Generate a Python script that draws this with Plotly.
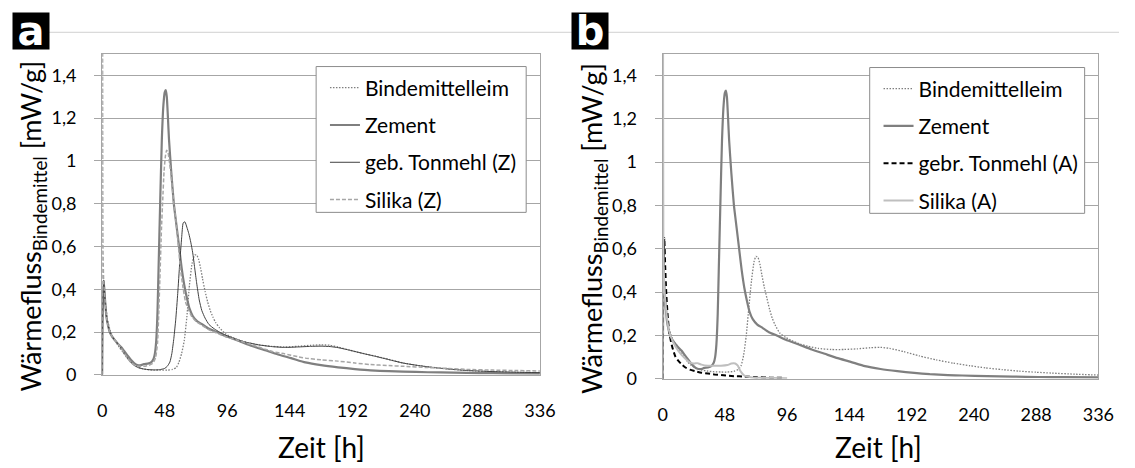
import plotly.graph_objects as go

W, H = 1135, 468

# ---------------- data: panel a ----------------
bind_a_t = [0, 0.4, 1.2, 2.5, 4, 6, 8, 10, 13, 16, 19, 22, 26, 30, 35, 40, 45, 50, 54, 57, 59, 61, 63, 65, 67, 69, 71,
            72.5, 74, 75.5, 77, 79, 81, 83, 85, 87, 90, 95, 100, 106, 112, 120, 130, 140, 150, 160, 168, 175, 181, 190,
            200, 210, 220, 231, 243, 256, 268, 281, 300, 318, 336]
bind_a_v = [0, 0.3, 0.44, 0.34, 0.26, 0.21, 0.18, 0.16, 0.13, 0.105, 0.08, 0.06, 0.042, 0.03, 0.024, 0.022, 0.022, 0.022,
            0.025, 0.035, 0.06, 0.1, 0.16, 0.27, 0.42, 0.52, 0.56, 0.56, 0.54, 0.5, 0.45, 0.39, 0.34, 0.3, 0.27, 0.245,
            0.22, 0.19, 0.175, 0.16, 0.15, 0.14, 0.133, 0.13, 0.133, 0.138, 0.14, 0.138, 0.13, 0.115, 0.1, 0.087, 0.072,
            0.055, 0.043, 0.033, 0.026, 0.02, 0.015, 0.012, 0.01]

zem_t = [0, 0.4, 1.2, 2.2, 3.3, 4.5, 5.8, 8, 10, 12, 14.5, 17, 19.5, 22, 24.5, 27, 30, 32, 35, 37.5, 39.5, 40.5, 41.5,
         42.5, 43.3, 44.5, 45.8, 47, 48, 48.8, 49.6, 50.5, 51.3, 53, 55, 57, 59, 61, 63, 65, 67, 69.5, 73, 77, 82, 88,
         95, 105, 115, 125, 135, 145, 156, 168, 181, 194, 206, 220, 231, 250, 270, 290, 310, 336]
zem_v = [0, 0.3, 0.44, 0.35, 0.27, 0.23, 0.2, 0.175, 0.16, 0.145, 0.13, 0.11, 0.09, 0.07, 0.055, 0.046, 0.045, 0.05,
         0.052, 0.058, 0.075, 0.1, 0.16, 0.3, 0.5, 0.8, 1.1, 1.26, 1.32, 1.33, 1.3, 1.2, 1.1, 0.95, 0.8, 0.7, 0.6, 0.5,
         0.42, 0.36, 0.31, 0.275, 0.25, 0.235, 0.215, 0.2, 0.18, 0.158, 0.135, 0.115, 0.095, 0.078, 0.058, 0.045, 0.035,
         0.027, 0.021, 0.017, 0.015, 0.012, 0.01, 0.008, 0.007, 0.006]

ton_z_t = [0, 0.4, 1.2, 2.2, 3.3, 4.5, 5.8, 8, 10, 12, 14.5, 17, 19.5, 22, 25, 28, 32, 36, 40, 44, 48, 50, 52, 53.5, 55,
           56.5, 58, 59.5, 61, 62.2, 63.5, 65, 66.5, 68, 69.5, 71, 72.5, 74.5, 76.5, 79, 82, 86, 90, 95, 100, 106, 112,
           120, 130, 140, 150, 160, 168, 175, 181, 190, 200, 210, 220, 231, 243, 256, 268, 281, 300, 318, 336]
ton_z_v = [0, 0.3, 0.44, 0.35, 0.27, 0.23, 0.2, 0.175, 0.16, 0.145, 0.125, 0.1, 0.078, 0.058, 0.042, 0.033, 0.027,
           0.024, 0.023, 0.024, 0.03, 0.04, 0.06, 0.1, 0.17, 0.26, 0.38, 0.52, 0.64, 0.71, 0.715, 0.69, 0.66, 0.62,
           0.57, 0.5, 0.43, 0.35, 0.3, 0.265, 0.235, 0.215, 0.2, 0.185, 0.172, 0.16, 0.15, 0.14, 0.132, 0.128, 0.13,
           0.133, 0.134, 0.132, 0.127, 0.115, 0.1, 0.086, 0.071, 0.055, 0.043, 0.033, 0.026, 0.02, 0.015, 0.012, 0.01]

sil_z_t = [0, 0.25, 0.6, 1.2, 2.2, 3.3, 4.5, 5.8, 8, 10, 12, 14.5, 17, 19.5, 22, 25, 28, 32, 36, 39, 41, 42.5, 43.5,
           44.5, 45.5, 46.5, 47.5, 48.5, 49.5, 50.5, 51.5, 53, 55, 57, 58.5, 60, 62, 64, 66.5, 69, 73, 77, 82, 88, 95,
           105, 115, 125, 131, 140, 150, 156, 168, 181, 194, 206, 220, 231, 250, 265, 281, 300, 318, 336]
sil_z_v = [0, 2.0, 0.6, 0.43, 0.35, 0.27, 0.23, 0.2, 0.175, 0.16, 0.145, 0.125, 0.1, 0.078, 0.058, 0.045, 0.04, 0.04,
           0.045, 0.055, 0.08, 0.15, 0.3, 0.49, 0.68, 0.82, 0.95, 1.02, 1.05, 1.04, 1.0, 0.93, 0.8, 0.7, 0.6, 0.5, 0.41,
           0.34, 0.3, 0.27, 0.245, 0.23, 0.21, 0.195, 0.178, 0.16, 0.14, 0.12, 0.108, 0.098, 0.085, 0.078, 0.07, 0.064,
           0.055, 0.048, 0.043, 0.04, 0.034, 0.03, 0.025, 0.022, 0.02, 0.018]

# ---------------- data: panel b ----------------
bind_b_t = [0, 0.4, 1.2, 2.5, 4, 6, 8, 10, 13, 16, 19, 22, 26, 30, 35, 40, 45, 50, 55, 58, 60.5, 62.5, 64.5, 66.5, 68.5,
            70.5, 72, 73.5, 75, 76.5, 78.5, 80.5, 82.5, 84.5, 87, 90.5, 95, 100, 106, 112, 120, 130, 140, 150, 160, 168,
            175, 186, 198, 211, 224, 237, 249, 262, 275, 288, 300, 318, 336]
bind_b_v = [0, 0.3, 0.44, 0.34, 0.26, 0.21, 0.18, 0.16, 0.13, 0.105, 0.08, 0.062, 0.048, 0.04, 0.035, 0.032, 0.031,
            0.031, 0.034, 0.042, 0.06, 0.11, 0.2, 0.33, 0.45, 0.54, 0.565, 0.56, 0.53, 0.48, 0.42, 0.37, 0.32, 0.28,
            0.245, 0.21, 0.19, 0.175, 0.16, 0.15, 0.14, 0.135, 0.135, 0.138, 0.143, 0.145, 0.14, 0.125, 0.105, 0.087,
            0.072, 0.06, 0.05, 0.042, 0.035, 0.03, 0.026, 0.021, 0.017]

ton_a_t = [0, 0.5, 1.3, 2, 2.8, 3.8, 5, 6.5, 8, 10, 12.5, 15, 17.6, 21, 25, 30, 35, 40, 47, 55, 63, 73, 83, 93]
ton_a_v = [0, 0.45, 0.65, 0.52, 0.4, 0.3, 0.22, 0.17, 0.135, 0.1, 0.08, 0.065, 0.052, 0.042, 0.035, 0.028, 0.024, 0.02,
           0.016, 0.012, 0.01, 0.007, 0.005, 0.004]

sil_a_t = [0, 0.3, 0.6, 1.2, 2.5, 5, 8, 12, 17, 21, 24, 27, 30, 35, 40, 45, 50, 53, 56, 58, 60, 63, 68, 75, 85, 96]
sil_a_v = [0, 2.0, 0.6, 0.45, 0.33, 0.22, 0.17, 0.13, 0.095, 0.075, 0.07, 0.072, 0.065, 0.06, 0.06, 0.06, 0.063, 0.07,
           0.07, 0.06, 0.035, 0.015, 0.007, 0.004, 0.003, 0.002]

x_ticks = [0, 48, 96, 144, 192, 240, 288, 336]
y_ticks = [0, 0.2, 0.4, 0.6, 0.8, 1, 1.2, 1.4]
y_tick_text = ["0", "0,2", "0,4", "0,6", "0,8", "1", "1,2", "1,4"]

legend_a_names = ["Bindemittelleim", "Zement", "geb. Tonmehl (Z)", "Silika (Z)"]
legend_b_names = ["Bindemittelleim", "Zement", "gebr. Tonmehl (A)", "Silika (A)"]

FONT = "Lato"
GRID = "#a6a6a6"

fig = go.Figure()

def add(t, v, name, xa, ya, leg, color, width, dash, grp):
    fig.add_trace(go.Scatter(
        x=t, y=v, name=name, mode="lines", xaxis=xa, yaxis=ya, legend=leg, legendgroup=grp,
        line=dict(color=color, width=width, dash=dash, shape="spline", smoothing=0.5),
        hoverinfo="skip"))

add(bind_a_t, bind_a_v, legend_a_names[0], "x", "y", "legend", "#7f7f7f", 1.3, "1.5px,1.5px", "a1")
add(zem_t, zem_v, legend_a_names[1], "x", "y", "legend", "#7f7f7f", 2.2, "solid", "a2")
add(ton_z_t, ton_z_v, legend_a_names[2], "x", "y", "legend", "#404040", 1.0, "solid", "a3")
add(sil_z_t, sil_z_v, legend_a_names[3], "x", "y", "legend", "#a6a6a6", 1.5, "4px,2px", "a4")

add(bind_b_t, bind_b_v, legend_b_names[0], "x2", "y2", "legend2", "#7f7f7f", 1.3, "1.5px,1.5px", "b1")
add(zem_t, zem_v, legend_b_names[1], "x2", "y2", "legend2", "#7f7f7f", 2.2, "solid", "b2")
add(ton_a_t, ton_a_v, legend_b_names[2], "x2", "y2", "legend2", "#000000", 2.0, "5px,3px", "b3")
add(sil_a_t, sil_a_v, legend_b_names[3], "x2", "y2", "legend2", "#bfbfbf", 2.0, "solid", "b4")

def px2x(x): return x / W
def px2y(y): return 1 - y / H

xcommon = dict(range=[0, 336], tickvals=x_ticks, ticks="", showgrid=False, zeroline=False,
               showline=True, linecolor=GRID, linewidth=1, mirror=True,
               tickfont=dict(family=FONT, size=18, color="#000"), ticklabelstandoff=20)
ycommon = dict(range=[0, 1.5], tickvals=y_ticks, ticktext=y_tick_text, ticks="outside", ticklen=7,
               tickcolor=GRID, showgrid=True, gridcolor=GRID, gridwidth=1, zeroline=False,
               showline=True, linecolor=GRID, linewidth=1, mirror=True,
               tickfont=dict(family=FONT, size=18, color="#000"), ticklabelstandoff=14)

leg_common = dict(xanchor="left", yanchor="top", bgcolor="rgba(0,0,0,0)", borderwidth=0,
                  font=dict(family=FONT, size=21, color="#000"), itemwidth=30,
                  traceorder="grouped", tracegroupgap=7)

fig.update_layout(
    width=W, height=H, margin=dict(l=0, r=0, t=0, b=0),
    paper_bgcolor="white", plot_bgcolor="white",
    font=dict(family=FONT, size=18, color="#000"),
    xaxis=dict(domain=[px2x(99), px2x(545)], anchor="y", **xcommon),
    yaxis=dict(domain=[px2y(383), px2y(55)], anchor="x", **ycommon),
    xaxis2=dict(domain=[px2x(670), px2x(1114)], anchor="y2", **xcommon),
    yaxis2=dict(domain=[px2y(387), px2y(55)], anchor="x2", **ycommon),
    legend=dict(x=px2x(326), y=px2y(69), **leg_common),
    legend2=dict(x=px2x(890), y=px2y(70), **leg_common),
    showlegend=True,
)

shapes = [
    dict(type="line", xref="paper", yref="paper", x0=px2x(44), x1=1, y0=px2y(33), y1=px2y(33),
         line=dict(color="#d0d0d0", width=1), layer="below"),
    dict(type="rect", xref="paper", yref="paper", x0=px2x(317), x1=px2x(531), y0=px2y(217), y1=px2y(68),
         fillcolor="white", line=dict(color="#8c8c8c", width=1), layer="above"),
    dict(type="rect", xref="paper", yref="paper", x0=px2x(881), x1=px2x(1100), y0=px2y(218), y1=px2y(69),
         fillcolor="white", line=dict(color="#8c8c8c", width=1), layer="above"),
]
fig.update_layout(shapes=shapes)

ytitle = "Wärmefluss<sub>Bindemittel</sub> [mW/g]"
ann = [
    dict(text="<b>a</b>", x=px2x(26), y=px2y(32), xref="paper", yref="paper", showarrow=False,
         font=dict(family="DejaVu Sans", size=40, color="white"), bgcolor="black", width=36, height=36,
         borderpad=0, xanchor="center", yanchor="middle"),
    dict(text="<b>b</b>", x=px2x(596), y=px2y(32), xref="paper", yref="paper", showarrow=False,
         font=dict(family="DejaVu Sans", size=40, color="white"), bgcolor="black", width=36, height=36,
         borderpad=0, xanchor="center", yanchor="middle"),
    dict(text=ytitle, x=px2x(28), y=px2y(231), xref="paper", yref="paper", showarrow=False, textangle=-90,
         font=dict(family=FONT, size=27, color="#000"), xanchor="center", yanchor="middle"),
    dict(text=ytitle, x=px2x(599), y=px2y(233), xref="paper", yref="paper", showarrow=False, textangle=-90,
         font=dict(family=FONT, size=27, color="#000"), xanchor="center", yanchor="middle"),
    dict(text="Zeit [h]", x=px2x(322), y=px2y(457), xref="paper", yref="paper", showarrow=False,
         font=dict(family=FONT, size=28, color="#000"), xanchor="center", yanchor="middle"),
    dict(text="Zeit [h]", x=px2x(890), y=px2y(457), xref="paper", yref="paper", showarrow=False,
         font=dict(family=FONT, size=28, color="#000"), xanchor="center", yanchor="middle"),
]
fig.update_layout(annotations=ann)

fig.write_html("out.html")
